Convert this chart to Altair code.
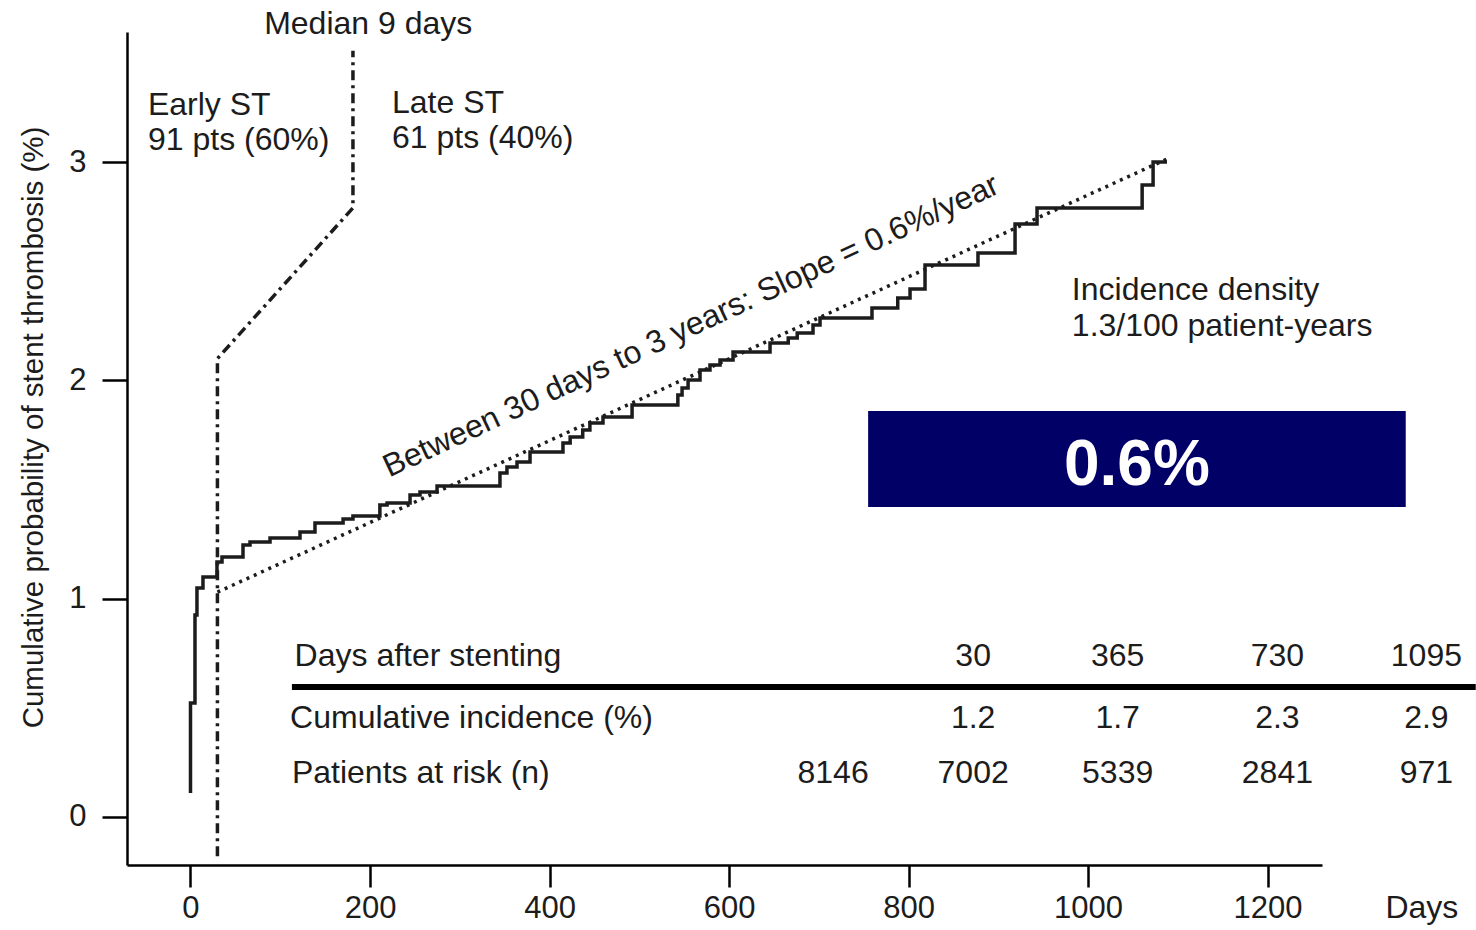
import altair as alt
import pandas as pd

# ---- Kaplan-Meier step curve (days, cumulative %) ----
km_days = [0, 0, 5.0, 7.2, 13.9, 29.5, 35.1, 58.5, 66.3, 88.6, 122, 138.7, 170, 181, 211, 219,
           244.6, 255.7, 274.7, 344.8, 352.6, 363.8, 378.3, 415, 423, 437, 445, 459.6, 492,
           543, 547.7, 554.4, 567.7, 578.8, 590, 604.5, 645.7, 666, 676, 693.6, 701.4, 759.3,
           788, 801.7, 818.4, 877.4, 918.7, 943.2, 1060.3, 1072.5, 1088]
km_vals = [0.11, 0.522, 0.925, 1.049, 1.099, 1.168, 1.191, 1.246, 1.26, 1.278, 1.306, 1.347,
           1.365, 1.379, 1.429, 1.438, 1.475, 1.489, 1.516, 1.576, 1.603, 1.626, 1.672, 1.713,
           1.741, 1.773, 1.805, 1.832, 1.887, 1.933, 1.965, 2.002, 2.048, 2.07, 2.093, 2.13,
           2.171, 2.194, 2.217, 2.254, 2.286, 2.332, 2.377, 2.419, 2.529, 2.584, 2.716, 2.79,
           2.895, 3.0, 3.0]

# ---- fitted slope line (dotted) ----
slope_days = [30, 1091]
slope_vals = [1.03, 3.02]

# ---- early/late split line (dash-dot) ----
split_days = [30, 30, 181, 181]
split_vals = [-0.18, 2.1, 2.79, 3.51]

# ---- table below curve ----
col_days = [872, 1033, 1211, 1377]
risk_days = [716, 872, 1033, 1211, 1377]
header_vals = ["30", "365", "730", "1095"]
incidence_vals = ["1.2", "1.7", "2.3", "2.9"]
at_risk_vals = ["8146", "7002", "5339", "2841", "971"]
row_labels = ["Days after stenting", "Cumulative incidence (%)", "Patients at risk (n)"]
row_label_days = [116, 111, 113]
row_y = [0.737, 0.453, 0.202]

FONT = "Liberation Sans"
INK = "#1c1c1c"
XD = [-70.75, 1260.7]
YD = [-0.22, 3.596]
FS = 32

xs = alt.Scale(domain=XD, nice=False, zero=False)
ys = alt.Scale(domain=YD, nice=False, zero=False)

X = alt.X("d:Q", scale=xs, axis=alt.Axis(values=[0, 200, 400, 600, 800, 1000, 1200],
                                          title=None, tickSize=22, labelPadding=6,
                                          labelFontSize=31, format="d"))
Y = alt.Y("v:Q", scale=ys, axis=alt.Axis(values=[0, 1, 2, 3], tickSize=25, labelPadding=16,
                                          labelFontSize=31, format="d",
                                          title="Cumulative probability of stent thrombosis (%)",
                                          titleX=-94, titleY=395, titleAngle=270,
                                          titleAlign="center", titleBaseline="middle",
                                          titleFontSize=29.5, titleFontWeight="normal"))

km = pd.DataFrame({"d": km_days, "v": km_vals, "i": list(range(len(km_days)))})
curve = alt.Chart(km).mark_line(interpolate="step-after", color=INK, strokeWidth=3.5).encode(
    x=X, y=Y, order="i:Q")

slope = alt.Chart(pd.DataFrame({"d": slope_days, "v": slope_vals})).mark_line(
    color=INK, strokeWidth=3.5, strokeDash=[3, 5]).encode(x=X, y=Y)

split = alt.Chart(pd.DataFrame({"d": split_days, "v": split_vals, "i": [0, 1, 2, 3]})).mark_line(
    color=INK, strokeWidth=3.5, strokeDash=[10, 5, 3, 5]).encode(x=X, y=Y, order="i:Q")

# table rule
rule = alt.Chart(pd.DataFrame({"d": [113], "d2": [1432], "v": [0.595]})).mark_rule(
    color="black", strokeWidth=6).encode(x=X, x2="d2:Q", y=Y)

# navy box
box = alt.Chart(pd.DataFrame({"d": [755], "d2": [1354], "v": [1.86], "v2": [1.42]})).mark_rect(
    color="#000066").encode(x=X, x2="d2:Q", y=Y, y2="v2:Q")
box_text = alt.Chart(pd.DataFrame({"d": [1054.5], "v": [1.61], "t": ["0.6%"]})).mark_text(
    font=FONT, fontSize=64, fontWeight="bold", color="white",
    align="center", baseline="middle").encode(x=X, y=Y, text="t:N")

# left-aligned annotations
ann_left = pd.DataFrame({
    "d": [-47.4, -47.4, 224.5, 224.5, 982, 982] + row_label_days,
    "v": [3.262, 3.101, 3.271, 3.11, 2.414, 2.249] + row_y,
    "t": ["Early ST", "91 pts (60%)", "Late ST", "61 pts (40%)",
          "Incidence density", "1.3/100 patient-years"] + row_labels,
})
left_text = alt.Chart(ann_left).mark_text(font=FONT, fontSize=FS, color=INK, align="left",
                                          baseline="middle").encode(x=X, y=Y, text="t:N")

# centered annotations and table values
cen = pd.DataFrame({
    "d": [198, 1372] + col_days + col_days + risk_days,
    "v": [3.633, -0.417] + [row_y[0]] * 4 + [row_y[1]] * 4 + [row_y[2]] * 5,
    "t": ["Median 9 days", "Days"] + header_vals + incidence_vals + at_risk_vals,
})
cen_text = alt.Chart(cen).mark_text(font=FONT, fontSize=FS, color=INK, align="center",
                                    baseline="middle").encode(x=X, y=Y, text="t:N")

slope_text = alt.Chart(pd.DataFrame({"d": [557.7], "v": [2.25],
                                     "t": ["Between 30 days to 3 years: Slope = 0.6%/year"]})).mark_text(
    font=FONT, fontSize=FS, color=INK, align="center", baseline="middle", angle=335).encode(
    x=X, y=Y, text="t:N")

chart = alt.layer(curve, slope, split, rule, box, box_text, left_text, cen_text, slope_text).properties(
    width=1195, height=833, autosize="none",
    padding={"left": 127, "top": 32, "right": 154, "bottom": 65},
    background="white",
).configure_view(stroke=None).configure_axis(
    domainColor="black", domainWidth=2.5, tickColor="black", tickWidth=2.5,
    labelFont=FONT, labelColor=INK, titleFont=FONT, titleColor=INK, grid=False,
)

chart.save("out.html", embed_options={"renderer": "svg", "actions": False})
